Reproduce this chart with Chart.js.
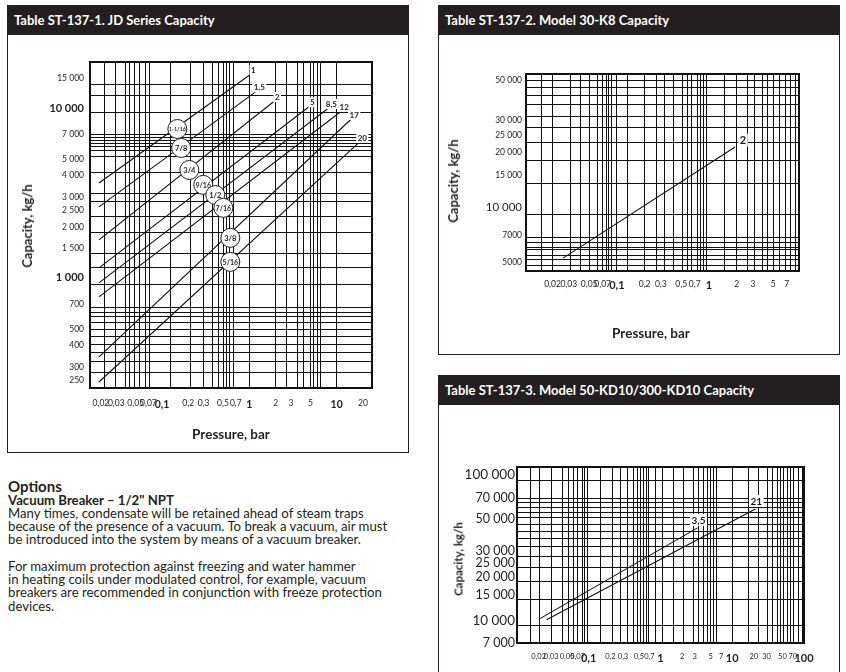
<!DOCTYPE html>
<html>
<head>
<meta charset="utf-8">
<script src="https://cdn.jsdelivr.net/npm/chart.js@4.4.1/dist/chart.umd.min.js"></script>
<style>
  body { margin:0; width:846px; height:672px; background:#fff; position:relative; overflow:hidden;
         font-family: Lato, "Open Sans", sans-serif; color:#231f20; }
  .frame { position:absolute; box-sizing:border-box; border:1.5px solid #231f20; border-top:none; }
  .hdr { background:#231f20; color:#fff; font-weight:700; font-size:13px; height:30px; line-height:30px; padding-left:6px; }
  canvas { position:absolute; }
  .xt, .yt { position:absolute; font-weight:700; white-space:nowrap; }
  .xt { font-size:13.5px; transform:translate(-50%,-50%); }
  .yt { font-size:13px; transform:translate(-50%,-50%) rotate(-90deg); }
  .opts { position:absolute; left:8px; top:480px; }
  .opts .h1 { font-weight:700; font-size:15px; line-height:13.5px; }
  .opts .h2 { font-weight:700; font-size:13.2px; line-height:13px; }
  .opts p { margin:0 0 13.3px 0; font-size:13.2px; line-height:13.3px; }
</style>
</head>
<body>

<div class="frame" style="left:7px;top:5px;width:402px;height:448px">
  <div class="hdr">Table ST-137-1. JD Series Capacity</div>
</div>
<canvas id="jdChart" width="400" height="414" style="left:8px;top:36px"></canvas>
<div class="yt" style="left:27px;top:226px">Capacity, kg/h</div>
<div class="xt" style="left:231px;top:434px">Pressure, bar</div>

<div class="frame" style="left:438px;top:5px;width:402px;height:350px">
  <div class="hdr">Table ST-137-2. Model 30-K8 Capacity</div>
</div>
<canvas id="k8Chart" width="399" height="317" style="left:439px;top:36px"></canvas>
<div class="yt" style="left:453px;top:181px">Capacity, kg/h</div>
<div class="xt" style="left:651px;top:333px">Pressure, bar</div>

<div class="frame" style="left:438px;top:375px;width:402px;height:310px">
  <div class="hdr">Table ST-137-3. Model 50-KD10/300-KD10 Capacity</div>
</div>
<canvas id="kdChart" width="399" height="266" style="left:439px;top:406px"></canvas>
<div class="yt" style="left:458px;top:559px;font-size:11.5px">Capacity, kg/h</div>

<div class="opts">
  <div class="h1">Options</div>
  <div class="h2">Vacuum Breaker – 1/2" NPT</div>
  <p>Many times, condensate will be retained ahead of steam traps<br>because of the presence of a vacuum. To break a vacuum, air must<br>be introduced into the system by means of a vacuum breaker.</p>
  <p>For maximum protection against freezing and water hammer<br>in heating coils under modulated control, for example, vacuum<br>breakers are recommended in conjunction with freeze protection<br>devices.</p>
</div>

<script>
const FONT = 'Lato, "Open Sans", sans-serif';
const INK = '#231f20';

// ===== Table ST-137-1: JD series (orifice, max pressure bar) =====
const jdOrifice  = ['1-1/16', '7/8', '3/4', '9/16', '1/2', '7/16', '3/8', '5/16'];
const jdMaxBar   = ['1', '1,5', '2', '5', '8,5', '12', '17', '20'];
const jdStartBar = [0.019, 0.019, 0.019, 0.019, 0.019, 0.019, 0.019, 0.019];
const jdStartKgh = [3620, 2620, 1675, 1146, 935, 773, 343, 244];
const jdEndBar   = [1.0, 1.17, 1.88, 4.74, 7.83, 11.0, 14.3, 17.7];
const jdEndKgh   = [15600, 12400, 10850, 10100, 9860, 9470, 8500, 6220];
// orifice circles (where they sit in the picture)
const jdMarkBar  = [0.150, 0.166, 0.206, 0.297, 0.408, 0.504, 0.606, 0.606];
const jdMarkKgh  = [7526, 5818, 4318, 3529, 3076, 2584, 1721, 1243];
const jdXGrid = [0.022, 0.029, 0.038, 0.043, 0.049, 0.056, 0.064, 0.072, 0.125, 0.21, 0.3, 0.38, 0.44, 0.5,
                 0.545, 0.59, 0.66, 1, 2, 2.7, 3.6, 4.15, 5, 5.4, 6, 6.5, 10];
const jdYGrid = [276, 321, 362, 404, 450, 494, 544, 590, 630, 667, 910, 1150, 1400, 1840, 2290, 2800, 3160,
                 4150, 5150, 5590, 5900, 6140, 6400, 6660, 6940, 9345, 11770, 13840];
const jdXTicks  = [0.02, 0.03, 0.05, 0.07, 0.1, 0.2, 0.3, 0.5, 0.7, 1, 2, 3, 5, 10, 20];
const jdXLabels = ['0,02', '0,03', '0,05', '0,07', '0,1', '0,2', '0,3', '0,5', '0,7', '1', '2', '3', '5', '10', '20'];
const jdYTicks  = [250, 300, 400, 500, 700, 1000, 1500, 2000, 2500, 3000, 4000, 5000, 7000, 10000, 15000];
const jdYLabels = ['250', '300', '400', '500', '700', '1 000', '1 500', '2 000', '2 500', '3 000', '4 000',
                   '5 000', '7 000', '10 000', '15 000'];

// ===== Table ST-137-2: Model 30-K8 =====
const k8Tags = ['2'];
const k8Bar  = [0.026, 1.92];
const k8Kgh  = [5250, 21400];
const k8XGrid = [0.015, 0.02, 0.031, 0.04, 0.05, 0.061, 0.069, 0.078, 0.082, 0.088, 0.098, 0.13, 0.2, 0.27,
                 0.33, 0.41, 0.52, 0.59, 0.65, 0.76, 0.8, 0.88, 0.95, 1.46, 1.97, 2.6, 3.16, 3.8, 4.3, 5,
                 5.9, 6.7, 7.6, 8.6];
const k8YGrid = [4810, 5130, 5460, 5820, 6040, 6360, 6780, 9060, 13580, 18150, 22540, 27250, 31700, 36450,
                 40850, 45750, 50000];
const k8XTicks  = [0.02, 0.03, 0.05, 0.07, 0.1, 0.2, 0.3, 0.5, 0.7, 1, 2, 3, 5, 7];
const k8XLabels = ['0,02', '0,03', '0,05', '0,07', '0,1', '0,2', '0,3', '0,5', '0,7', '1', '2', '3', '5', '7'];
const k8YTicks  = [5000, 7000, 10000, 15000, 20000, 25000, 30000, 50000];
const k8YLabels = ['5000', '7000', '10 000', '15 000', '20 000', '25 000', '30 000', '50 000'];

// ===== Table ST-137-3: Model 50-KD10/300-KD10 =====
const kdTags   = ['3,5', '21'];
const kd35Bar  = [0.0206, 3.28];
const kd35Kgh  = [10320, 43400];
const kd21Bar  = [0.0258, 21];
const kd21Kgh  = [10160, 58500];
const kdXGrid = [0.0154, 0.0206, 0.0303, 0.043, 0.052, 0.061, 0.07, 0.082, 0.087, 0.096, 0.146, 0.214, 0.277,
                 0.347, 0.42, 0.48, 0.53, 0.58, 0.64, 0.68, 0.85, 1.07, 1.52, 2.09, 2.89, 3.39, 3.97, 4.52,
                 4.97, 5.48, 6.03, 10.1, 16.8, 23.2, 31, 36.4, 42.7, 47, 51.8, 58.9, 64.9, 71.4, 83.8, 95.3];
const kdYGrid = [9240, 13930, 18490, 23070, 27420, 32150, 36450, 40700, 45500, 50750, 54950, 59500, 64300,
                 68500, 91000];
const kdXTicks  = [0.02, 0.03, 0.05, 0.07, 0.1, 0.2, 0.3, 0.5, 0.7, 1, 2, 3, 5, 7, 10, 20, 30, 50, 70, 100];
const kdXLabels = ['0,02', '0,03', '0,05', '0,07', '0,1', '0,2', '0,3', '0,5', '0,7', '1', '2', '3', '5', '7',
                   '10', '20', '30', '50', '70', '100'];
const kdYTicks  = [7000, 10000, 15000, 20000, 25000, 30000, 50000, 70000, 100000];
const kdYLabels = ['7 000', '10 000', '15 000', '20 000', '25 000', '30 000', '50 000', '70 000', '100 000'];

// log axis with its own grid values and label values
function logAxis(o) {
  const all = [...new Set([...o.grid, ...o.ticks])].sort((a, b) => a - b);
  return {
    type: 'logarithmic',
    min: o.min,
    max: o.max,
    afterBuildTicks: s => { s.ticks = all.map(v => ({ value: v })); },
    afterFit: s => { if (s.isHorizontal()) s.height = o.fit; else s.width = o.fit; },
    grid: {
      drawTicks: false,
      lineWidth: 1,
      color: c => (c.tick && o.grid.includes(c.tick.value)) ? '#111' : 'rgba(0,0,0,0)'
    },
    border: { display: false },
    ticks: {
      autoSkip: false,
      maxRotation: 0,
      minRotation: 0,
      padding: o.pad,
      color: INK,
      callback: v => { const k = o.ticks.indexOf(v); return k < 0 ? '' : o.labels[k]; },
      font: c => {
        const big = c.tick && o.big.includes(c.tick.value);
        return { family: FONT, size: big ? o.bigSize : o.size, weight: big ? o.bigWeight : 400 };
      }
    }
  };
}

// plot box
const boxPlugin = {
  id: 'box',
  beforeDatasetsDraw(chart) {
    const a = chart.chartArea, ctx = chart.ctx;
    ctx.save();
    ctx.lineWidth = 2;
    ctx.strokeStyle = '#111';
    ctx.strokeRect(a.left, a.top, a.right - a.left, a.bottom - a.top);
    ctx.restore();
  }
};

// end tags and orifice circles
const tagPlugin = {
  id: 'tags',
  afterDatasetsDraw(chart, args, o) {
    const ctx = chart.ctx;
    const xs = chart.scales.x, ys = chart.scales.y;
    ctx.save();
    ctx.textAlign = 'center';
    ctx.textBaseline = 'middle';
    chart.data.datasets.forEach((ds, i) => {
      const pts = chart.getDatasetMeta(i).data;
      const b = pts[pts.length - 1];
      const t = o.text[i];
      ctx.font = `700 ${o.size}px ${FONT}`;
      const w = ctx.measureText(t).width;
      const cx = b.x + o.dx, cy = b.y + o.dy;
      ctx.fillStyle = '#fff';
      ctx.fillRect(cx - w / 2 - 1.5, cy - o.size / 2 - 1, w + 3, o.size + 2);
      ctx.fillStyle = INK;
      ctx.fillText(t, cx, cy + 0.5);
    });
    if (o.marks) {
      o.marks.forEach((p, i) => {
        const mx = xs.getPixelForValue(p);
        const my = ys.getPixelForValue(o.markKgh[i]);
        ctx.beginPath();
        ctx.arc(mx, my, 9.5, 0, Math.PI * 2);
        ctx.fillStyle = '#fff';
        ctx.fill();
        ctx.lineWidth = 1;
        ctx.strokeStyle = INK;
        ctx.stroke();
        const t = o.markText[i];
        ctx.font = `700 ${t.length > 5 ? 5.5 : (t.length > 3 ? 7 : 7.5)}px ${FONT}`;
        ctx.fillStyle = INK;
        ctx.fillText(t, mx, my + 0.5);
      });
    }
    ctx.restore();
  }
};

function series(p, kgh) {
  return {
    data: p.map((v, i) => ({ x: v, y: kgh[i] })),
    borderColor: '#111',
    borderWidth: 1.1,
    pointRadius: 0,
    fill: false,
    tension: 0
  };
}

function makeChart(id, datasets, pad, x, y, tags) {
  return new Chart(document.getElementById(id), {
    type: 'line',
    data: { datasets },
    options: {
      responsive: false,
      animation: false,
      events: [],
      layout: { padding: pad },
      plugins: { legend: { display: false }, tooltip: { enabled: false }, tags },
      scales: { x: logAxis(x), y: logAxis(y) }
    },
    plugins: [boxPlugin, tagPlugin]
  });
}

// JD series
makeChart('jdChart',
  jdOrifice.map((n, i) => series([jdStartBar[i], jdEndBar[i]], [jdStartKgh[i], jdEndKgh[i]])),
  { left: 0, top: 26, right: 36, bottom: 0 },
  { grid: jdXGrid, ticks: jdXTicks, labels: jdXLabels, big: [0.1, 1, 10], bigSize: 10.5, bigWeight: 700,
    size: 8.5, min: 0.015, max: 25.4, fit: 62, pad: 10 },
  { grid: jdYGrid, ticks: jdYTicks, labels: jdYLabels, big: [1000, 10000], bigSize: 11, bigWeight: 700,
    size: 8.5, min: 225, max: 18650, fit: 82, pad: 6 },
  { text: jdMaxBar, size: 8, dx: 4, dy: -5, marks: jdMarkBar, markKgh: jdMarkKgh, markText: jdOrifice }
);

// 30-K8
makeChart('k8Chart',
  [series(k8Bar, k8Kgh)],
  { left: 0, top: 38, right: 39, bottom: 0 },
  { grid: k8XGrid, ticks: k8XTicks, labels: k8XLabels, big: [0.1, 1], bigSize: 11, bigWeight: 700,
    size: 8.5, min: 0.0103, max: 9.5, fit: 82, pad: 8 },
  { grid: k8YGrid, ticks: k8YTicks, labels: k8YLabels, big: [10000], bigSize: 11.5, bigWeight: 400,
    size: 8.5, min: 4460, max: 53950, fit: 87, pad: 4 },
  { text: k8Tags, size: 11, dx: 8, dy: -7 }
);

// 50-KD10 / 300-KD10
makeChart('kdChart',
  [series(kd35Bar, kd35Kgh), series(kd21Bar, kd21Kgh)],
  { left: 0, top: 61, right: 34, bottom: 0 },
  { grid: kdXGrid, ticks: kdXTicks, labels: kdXLabels, big: [0.1, 1, 10, 100], bigSize: 11, bigWeight: 700,
    size: 7.5, min: 0.01, max: 100, fit: 29, pad: 9 },
  { grid: kdYGrid, ticks: kdYTicks, labels: kdYLabels, big: [10000, 100000], bigSize: 13.5, bigWeight: 400,
    size: 12.5, min: 7050, max: 113400, fit: 78, pad: 2 },
  { text: kdTags, size: 10, dx: 1, dy: -8 }
);
</script>
</body>
</html>
